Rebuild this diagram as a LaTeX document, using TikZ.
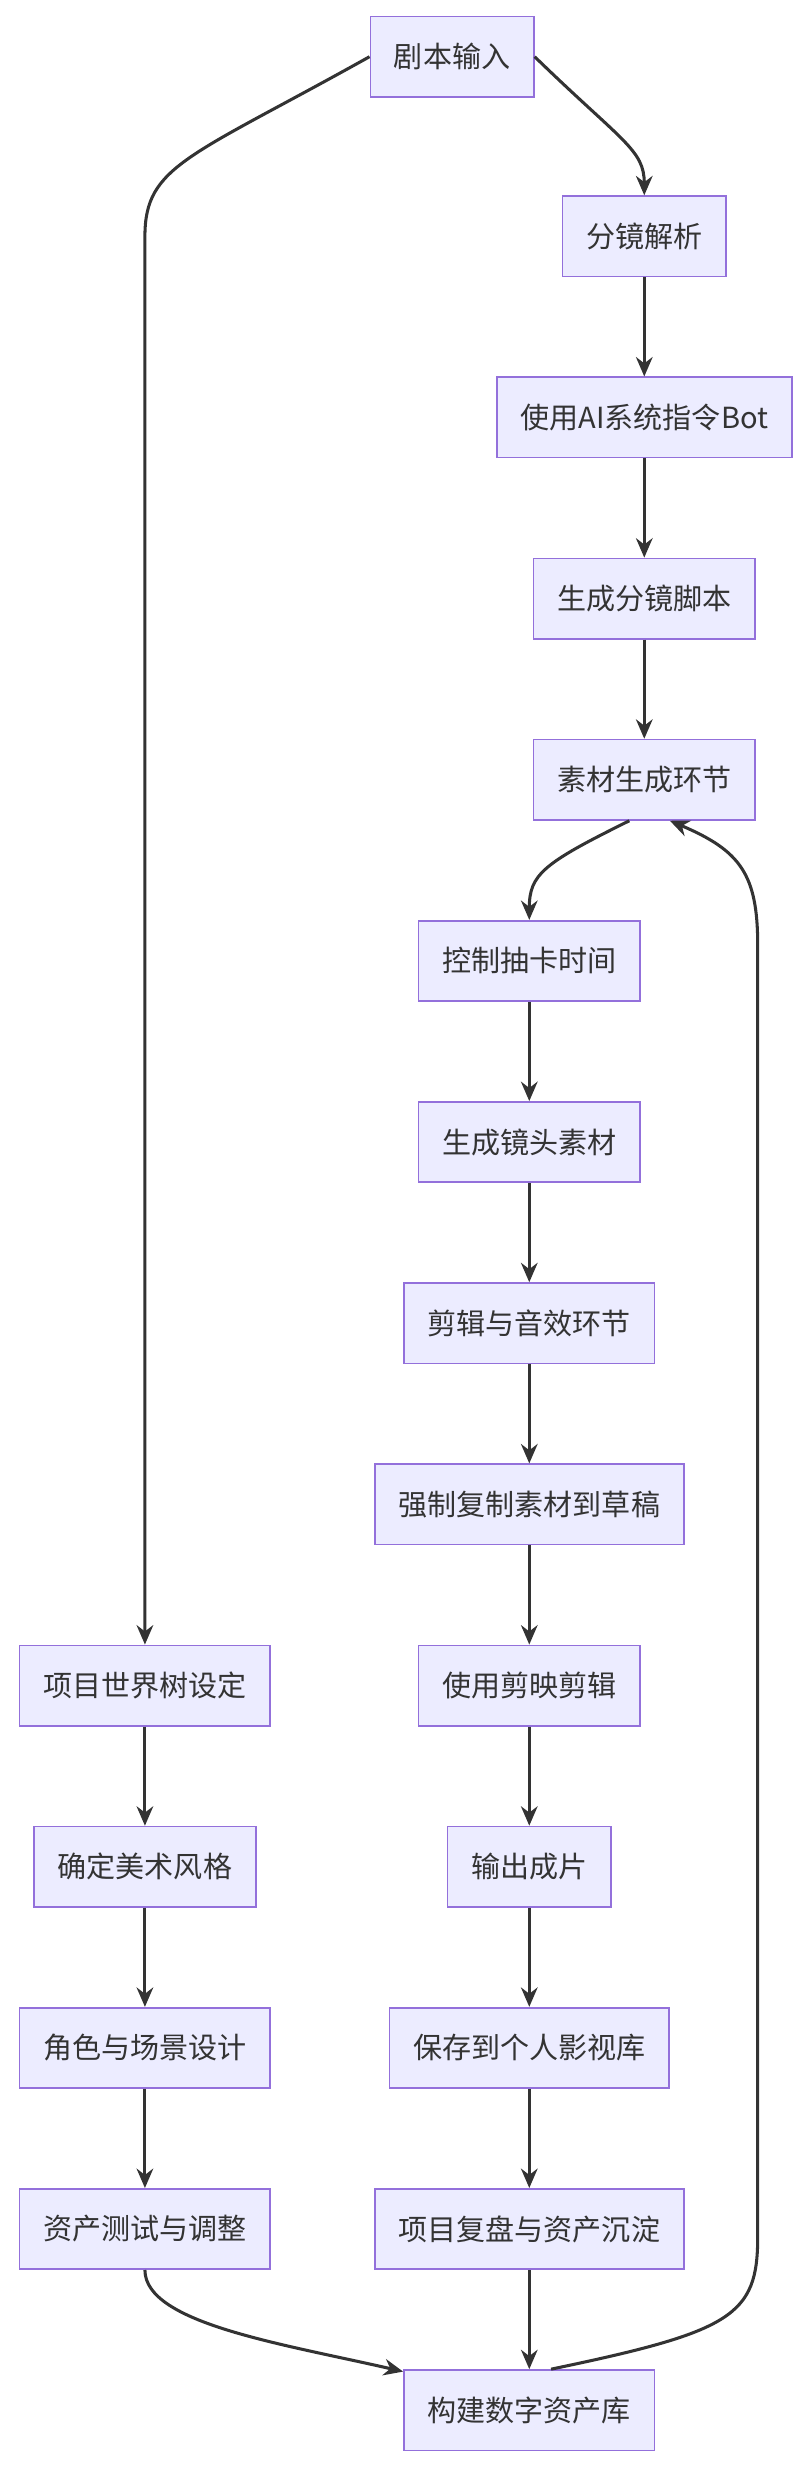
\documentclass[tikz,border=0pt]{standalone}
\usepackage{fontspec}
\setmainfont{Noto Sans CJK SC}
\usetikzlibrary{arrows.meta}
\definecolor{boxfill}{HTML}{ECECFF}
\definecolor{boxline}{HTML}{9370DB}
\definecolor{linkcol}{HTML}{333333}
\begin{document}
\begin{tikzpicture}[x=0.02cm,y=-0.02cm,
	stage/.style={draw=boxline,fill=boxfill,line width=0.6pt,minimum height=1.02cm,inner xsep=0.3cm,font=\fontsize{10.5}{12}\selectfont,text=linkcol},
	arr/.style={draw=linkcol,line width=1.1pt,-{Stealth[length=7pt,width=6pt]}}]
	\useasboundingbox (0,0) rectangle (512,1568);
	% main column
	\node[stage] (in) at (287,36) {剧本输入};
	\node[stage] (fj) at (409,150) {分镜解析};
	\node[stage] (bot) at (409,265) {使用AI系统指令Bot};
	\node[stage] (jb) at (409,380) {生成分镜脚本};
	\node[stage] (sc) at (409,495) {素材生成环节};
	\node[stage] (kz) at (336,610) {控制抽卡时间};
	\node[stage] (jt) at (336,725) {生成镜头素材};
	\node[stage] (jy) at (336,840) {剪辑与音效环节};
	\node[stage] (fz) at (336,955) {强制复制素材到草稿};
	\node[stage] (jx) at (336,1070) {使用剪映剪辑};
	\node[stage] (cp) at (336,1185) {输出成片};
	\node[stage] (bc) at (336,1300) {保存到个人影视库};
	\node[stage] (fp) at (336,1415) {项目复盘与资产沉淀};
	\node[stage] (gj) at (336,1530) {构建数字资产库};
	% left column
	\node[stage] (wt) at (92,1070) {项目世界树设定};
	\node[stage] (ms) at (92,1185) {确定美术风格};
	\node[stage] (js) at (92,1300) {角色与场景设计};
	\node[stage] (zc) at (92,1415) {资产测试与调整};
	% links
	\draw[arr] (in.west) .. controls (120,100) and (92,105) .. (92,150) -- (wt.north);
	\draw[arr] (in.east) .. controls (395,90) and (409,95) .. (fj.north);
	\draw[arr] (fj) -- (bot);
	\draw[arr] (bot) -- (jb);
	\draw[arr] (jb) -- (sc);
	\draw[arr] (sc.250) .. controls (345,548) and (336,555) .. (kz.north);
	\draw[arr] (kz) -- (jt);
	\draw[arr] (jt) -- (jy);
	\draw[arr] (jy) -- (fz);
	\draw[arr] (fz) -- (jx);
	\draw[arr] (jx) -- (cp);
	\draw[arr] (cp) -- (bc);
	\draw[arr] (bc) -- (fp);
	\draw[arr] (fp) -- (gj);
	\draw[arr] (wt) -- (ms);
	\draw[arr] (ms) -- (js);
	\draw[arr] (js) -- (zc);
	\draw[arr] (zc.south) .. controls (92,1475) and (180,1488) .. (gj.163);
	\draw[arr] (gj.62) .. controls (465,1480) and (481,1470) .. (481,1420) -- (481,600) .. controls (481,555) and (470,540) .. (sc.-58);
\end{tikzpicture}
\end{document}
